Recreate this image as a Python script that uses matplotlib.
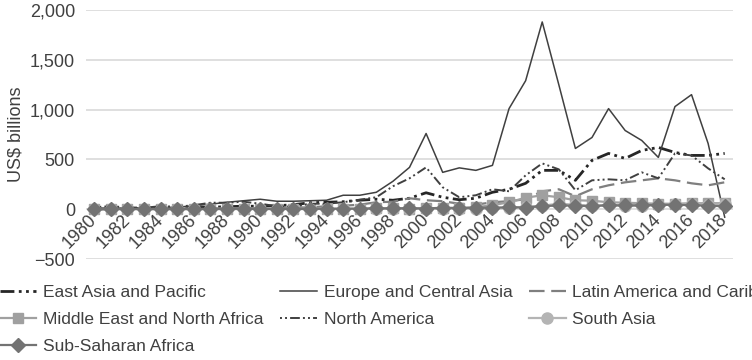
import numpy as np
import matplotlib
matplotlib.use("Agg")
import matplotlib.pyplot as plt
from matplotlib.ticker import FuncFormatter

plt.rcParams['font.family'] = ['Liberation Sans', 'DejaVu Sans']

years = list(range(1980, 2019))

# FDI by region, US$ billions
east_asia = [2, 5, 6, 7, 8, 10, 15, 20, 25, 30, 30, 35, 45, 65, 70, 75, 90, 100, 90, 110,
             165, 120, 95, 110, 170, 200, 260, 390, 390, 290, 490, 560, 510, 590, 620, 570, 540, 540, 560]
europe = [5, 8, 10, 12, 15, 20, 35, 50, 70, 85, 100, 80, 80, 85, 90, 140, 140, 170, 280, 420,
          760, 370, 415, 390, 440, 1010, 1290, 1880, 1250, 610, 720, 1010, 790, 690, 520, 1030, 1150, 660, -80]
latin_america = [8, 10, 8, 5, 5, 7, 6, 8, 9, 10, 10, 15, 17, 18, 30, 35, 45, 70, 75, 110,
                 90, 80, 55, 45, 70, 80, 100, 180, 200, 130, 200, 240, 270, 290, 310, 290, 260, 240, 270]
mena = [-2, 2, 3, 3, 2, 3, 2, 2, 3, 3, 3, 4, 5, 6, 5, 3, 5, 8, 8, 5,
        8, 10, 12, 20, 40, 70, 115, 140, 120, 90, 85, 70, 65, 60, 55, 55, 60, 60, 60]
north_america = [20, 30, 18, 15, 30, 25, 40, 65, 65, 75, 55, 30, 25, 55, 55, 70, 95, 120, 230, 310,
                 420, 220, 120, 140, 200, 180, 340, 460, 400, 190, 290, 300, 290, 370, 310, 560, 540, 410, 300]
south_asia = [0, 0, 0, 0, 0, 0, 0, 0, 1, 1, 1, 1, 1, 1, 2, 3, 3, 5, 4, 4,
              5, 6, 7, 6, 8, 12, 25, 35, 55, 45, 35, 45, 30, 35, 40, 50, 50, 45, 50]
ssa = [0, 2, 2, 2, 1, 2, 2, 3, 3, 5, 2, 3, 3, 3, 4, 5, 5, 9, 8, 10,
       7, 15, 12, 15, 15, 20, 17, 30, 38, 35, 30, 40, 38, 40, 42, 45, 40, 35, 30]

labels = ['East Asia and Pacific', 'Europe and Central Asia', 'Latin America and Caribbean',
          'Middle East and North Africa', 'North America', 'South Asia', 'Sub-Saharan Africa']

fig = plt.figure(figsize=(7.52, 3.6), dpi=100)
ax = fig.add_axes([86 / 752, 1 - 259 / 360, (733 - 86) / 752, (259 - 10) / 360])

ddd = (5, 1.6, 1, 1.6, 1, 1.6)
h1, = ax.plot(years, east_asia, color='#262626', lw=2.0, dashes=ddd)
h2, = ax.plot(years, europe, color='#404040', lw=1.1)
h3, = ax.plot(years, latin_america, color='#7f7f7f', lw=1.6, dashes=(7, 3))
h4, = ax.plot(years, mena, color='#a0a0a0', lw=1.6, marker='s', ms=7)
h5, = ax.plot(years, north_america, color='#404040', lw=1.4, dashes=(1, 1.6, 1, 1.6, 5, 1.6))
h6, = ax.plot(years, south_asia, color='#b4b4b4', lw=1.6, marker='o', ms=8)
h7, = ax.plot(years, ssa, color='#737373', lw=1.6, marker='D', ms=7.5)

ax.set_xlim(1979.5, 2018.5)
ax.set_ylim(-500, 2000)
ax.set_yticks([-500, 0, 500, 1000, 1500, 2000])
ax.yaxis.set_major_formatter(FuncFormatter(lambda v, p: f'{v:,.0f}'.replace('-', '\u2212')))
ax.set_xticks(years[::2])
ax.set_xticklabels([str(y) for y in years[::2]])
ax.grid(axis='y', color='#d9d9d9', lw=1.2)
ax.set_axisbelow(True)
for s in ['top', 'right', 'left']:
    ax.spines[s].set_visible(False)
ax.spines['bottom'].set_position(('data', 0))
ax.spines['bottom'].set_visible(False)
ax.tick_params(axis='both', length=0, labelsize=13, colors='#404040')
ax.tick_params(axis='x', pad=6, labelrotation=45)
ax.tick_params(axis='y', pad=8)
plt.setp(ax.get_xticklabels(), ha='right', va='center', rotation_mode='anchor')
ax.set_ylabel('US$ billions', fontsize=13, color='#404040', labelpad=4)

order = [h1, h4, h7, h2, h5, h3, h6]
order_lab = [labels[0], labels[3], labels[6], labels[1], labels[4], labels[2], labels[5]]
fig.legend(order, order_lab, loc='upper left', bbox_to_anchor=(0.0, 0.208), ncol=3,
           frameon=False, fontsize=12.5, handlelength=2.1, handletextpad=0.4,
           columnspacing=0.95, labelspacing=0.68, borderpad=0, borderaxespad=0,
           labelcolor='#404040')

fig.savefig('out.png', dpi=100)
